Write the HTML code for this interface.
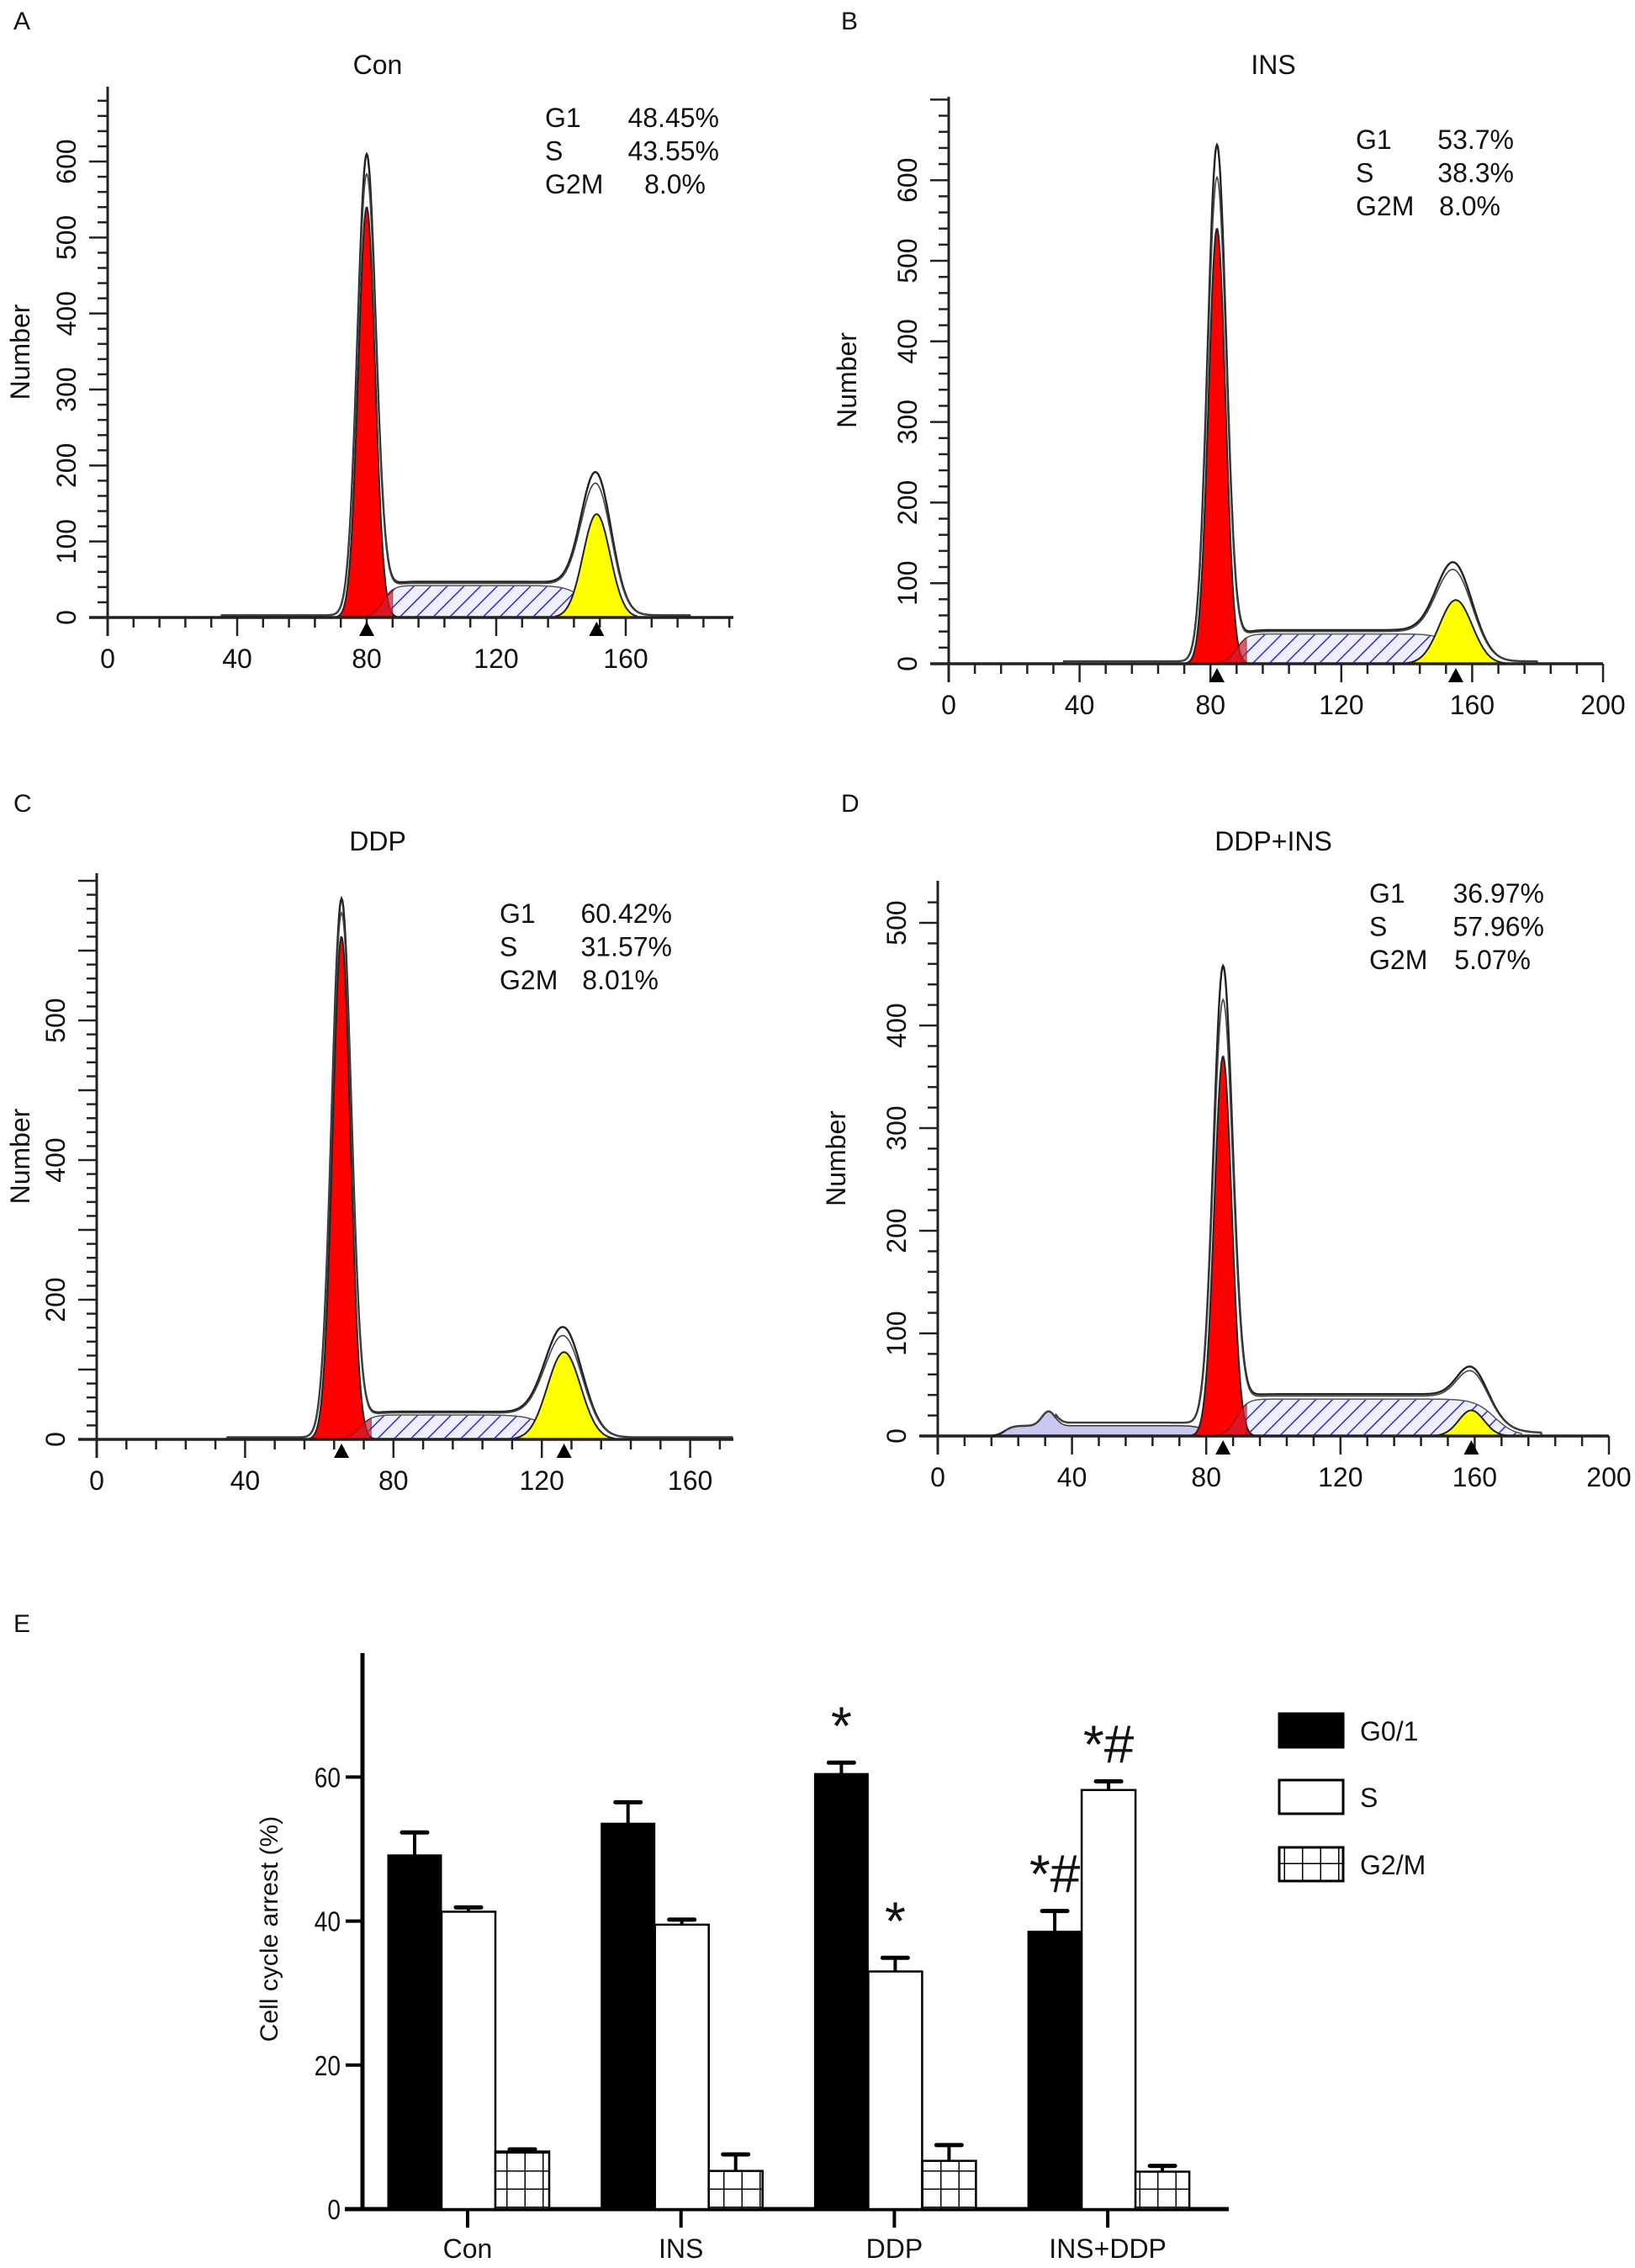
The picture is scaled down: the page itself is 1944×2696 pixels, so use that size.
<!DOCTYPE html>
<html><head><meta charset="utf-8"><style>
html,body{margin:0;padding:0;background:#fff}
svg{display:block}
text{font-family:"Liberation Sans",Arial,sans-serif;fill:#111}
</style></head><body>
<svg id="fig" width="1944" height="2696" viewBox="0 0 1944 2696" xmlns="http://www.w3.org/2000/svg">
<defs>
<pattern id="hatch" patternUnits="userSpaceOnUse" width="14" height="14" patternTransform="rotate(45)">
<rect width="14" height="14" fill="#eeeefc"/><line x1="0" y1="0" x2="0" y2="14" stroke="#2c2cd8" stroke-width="3"/>
</pattern>
<pattern id="grid" patternUnits="userSpaceOnUse" width="21.5" height="21.5" x="0" y="0">
<rect width="21.5" height="21.5" fill="#fff"/><path d="M0 0H21.5M0 0V21.5" stroke="#000" stroke-width="3"/>
</pattern>
</defs>
<g id="hist"></g>
<g id="bars"></g>
</svg>
<script>
const NS='http://www.w3.org/2000/svg';
// ---- flow cytometry histogram data ----
const panelTitles=['Con','INS','DDP','DDP+INS'];
const panelLetters=['A','B','C','D'];
const statG1=['48.45%','53.7%','60.42%','36.97%'];
const statS=['43.55%','38.3%','31.57%','57.96%'];
const statG2=['8.0%','8.0%','8.01%','5.07%'];
const g1Center=[80,82,66,85];
const g1Height=[540,540,720,370];
const g1Outline=[605,640,770,452];
const g1Sd=[2.6,2.6,2.4,2.6];
const g2Center=[151,155,126,159];
const g2Height=[136,79,125,25];
const g2Outline=[176,99,150,30];
const g2Sd=[4.2,5,4.5,3.8];
const sLevel=[42,37,35,36];
const sStart=[85,88,71,89];
const sEnd=[148,156,122,166];
const debrisLevel=[0,0,0,10];
const yTickVals=[[0,100,200,300,400,500,600],[0,100,200,300,400,500,600],[0,200,400,600],[0,100,200,300,400,500]];
const yTickLabels=[['0','100','200','300','400','500','600'],['0','100','200','300','400','500','600'],['0','200','400','500'],['0','100','200','300','400','500']];
const xTickVals=[[0,40,80,120,160],[0,40,80,120,160,200],[0,40,80,120,160],[0,40,80,120,160,200]];
// layout (pixels)
const L=[
 {ox:128,oy:734,top:103,xs:3.85,ys:0.9033,xend:872,ymaxv:700,title:[449,77],stat:[648,140,855],letter:[16,35]},
 {ox:1128,oy:789,top:115,xs:3.89,ys:0.958,xend:1906,ymaxv:700,title:[1514,77],stat:[1612,166,1800],letter:[1000,35]},
 {ox:115,oy:1711,top:1038,xs:4.41,ys:0.83,xend:872,ymaxv:800,title:[449,1000],stat:[594,1086,799],letter:[16,965]},
 {ox:1115,oy:1707,top:1047,xs:3.99,ys:1.22,xend:1913,ymaxv:540,title:[1514,1000],stat:[1628,1062,1836],letter:[1000,965]}
];
function el(tag,attrs,parent){const e=document.createElementNS(NS,tag);for(const k in attrs)e.setAttribute(k,attrs[k]);parent.appendChild(e);return e;}
function gauss(x,c,h,s){return h*Math.exp(-0.5*((x-c)/s)**2);}
function sig(z){return 1/(1+Math.exp(-z));}
const H=document.getElementById('hist');
for(let p=0;p<4;p++){
 const l=L[p];
 const g=el('g',{},H);
 
 
 const X=v=>l.ox+v*l.xs, Y=v=>l.oy-v*l.ys;
 const sF=x=>sLevel[p]*sig((x-sStart[p])/1.6)*sig((sEnd[p]-x)/3);
 const dF=x=>debrisLevel[p]?debrisLevel[p]*sig((x-20)/1.2)*sig((80-x)/1.5)+gauss(x,33,14,2):0;
 const base=x=>(x>35&&x<180?3:0);
 const xmax=(l.xend-l.ox)/l.xs;
 const pathOf=(f,a,b)=>{let d='M'+X(a).toFixed(1)+' '+l.oy;for(let x=a;x<=b;x+=0.25)d+='L'+X(x).toFixed(1)+' '+Y(f(x)).toFixed(1);return d+'L'+X(b).toFixed(1)+' '+l.oy+'Z';};
 const lineOf=(f,a,b)=>{let d='';for(let x=a;x<=b;x+=0.25)d+=(d?'L':'M')+X(x).toFixed(1)+' '+Y(f(x)).toFixed(1);return d;};
 if(debrisLevel[p]){const e=el('path',{d:pathOf(dF,18,82),fill:'#c8c8f0',stroke:'#333','stroke-width':1.5},g);}
 let e=el('path',{d:pathOf(sF,sStart[p]-4,sEnd[p]+8),fill:'url(#hatch)',stroke:'#555','stroke-width':1.5},g);
 
 e=el('path',{d:pathOf(x=>gauss(x,g1Center[p],g1Height[p],g1Sd[p]),g1Center[p]-4*g1Sd[p],g1Center[p]+4*g1Sd[p]),fill:'#ff0000',stroke:'#222','stroke-width':2},g);
 
 el('path',{d:pathOf(x=>Math.min(sF(x),gauss(x,g1Center[p],g1Height[p],g1Sd[p])+sF(x)),g1Center[p]-6,sStart[p]+3),fill:'#d02030',stroke:'#600','stroke-width':1,opacity:0.7},g);
 e=el('path',{d:pathOf(x=>gauss(x,g2Center[p],g2Height[p],g2Sd[p]),g2Center[p]-3*g2Sd[p],g2Center[p]+3*g2Sd[p]),fill:'#ffff00',stroke:'#222','stroke-width':2},g);
 
 const env=k=>x=>base(x)+dF(x)+sF(x)*k+gauss(x,g1Center[p],k>1?g1Outline[p]:g1Height[p]+(g1Outline[p]-g1Height[p])*0.6,g1Sd[p]*1.1)+gauss(x,g2Center[p],k>1?g2Outline[p]:g2Outline[p]*0.92,g2Sd[p]*1.1);
 e=el('path',{d:lineOf(env(1.05),15,Math.min(xmax,185)),fill:'none',stroke:'#222','stroke-width':2.4},g);
 
 el('path',{d:lineOf(env(1.0),20,Math.min(xmax,183)),fill:'none',stroke:'#444','stroke-width':1.6},g);
 e=el('line',{x1:l.ox,y1:l.top,x2:l.ox,y2:l.oy+22,stroke:'#222','stroke-width':3},g);
 
 e=el('line',{x1:l.ox-22,y1:l.oy,x2:l.xend,y2:l.oy,stroke:'#222','stroke-width':3.5},g);
 
 for(let v=20;v<=l.ymaxv;v+=20){const y=Y(v);if(y<l.top+2)break;el('line',{x1:l.ox-(v%100===0?22:12),y1:y,x2:l.ox,y2:y,stroke:'#222','stroke-width':2.5},g);}
 for(let v=8;X(v)<=l.xend;v+=8){el('line',{x1:X(v),y1:l.oy,x2:X(v),y2:l.oy+(v%40===0?22:12),stroke:'#222','stroke-width':2.5},g);}
 yTickVals[p].forEach((v,i)=>{const t=el('text',{x:0,y:0,'font-size':32,'text-anchor':'middle',transform:`translate(${l.ox-38},${Y(v)}) rotate(-90)`},g);t.textContent=yTickLabels[p][i];});
 xTickVals[p].forEach(v=>{const t=el('text',{x:X(v),y:l.oy+60,'font-size':32,'text-anchor':'middle'},g);t.textContent=v;});
 [g1Center[p],g2Center[p]].forEach(v=>{const t=el('path',{d:`M${X(v)} ${l.oy+5}l-9 17h18z`,fill:'#000'},g);});
 let t=el('text',{x:0,y:0,'font-size':32,'text-anchor':'middle',transform:`translate(${p%2?l.ox-110:35},${(l.top+l.oy)/2}) rotate(-90)`},g);t.textContent='Number';
 
 t=el('text',{x:l.title[0],y:l.title[1]+11,'font-size':32,'text-anchor':'middle'},g);t.textContent=panelTitles[p];
 
 t=el('text',{x:l.letter[0],y:l.letter[1],'font-size':30},g);t.textContent=panelLetters[p];
 
 const labs=['G1','S','G2M'],vals=[statG1[p],statS[p],statG2[p]];
 for(let i=0;i<3;i++){const yy=l.stat[1]+i*39.5+11;
  let a=el('text',{x:l.stat[0],y:yy,'font-size':32},g);a.textContent=labs[i];
  a=el('text',{x:l.stat[2]-(i==2?16:0),y:yy,'font-size':32,'text-anchor':'end'},g);a.textContent=vals[i];}
}
// ---- bar chart data ----
const groups=['Con','INS','DDP','INS+DDP'];
const g01Vals=[49.2,53.6,60.5,38.6];
const g01Err=[3.1,2.9,1.5,2.8];
const sVals=[41.3,39.5,33.0,58.2];
const sErr=[0.6,0.7,1.9,1.2];
const g2mVals=[8.0,5.3,6.7,5.2];
const g2mErr=[0.3,2.3,2.2,0.8];
const yTicks=[0,20,40,60];
const marks=[['','',''],['','',''],['*','*',''],['*#','*#','']];
const B=document.getElementById('bars');
const bx0=431,by0=2626,bys=8.56,gx0=556,gsp=253.7,bw=64;
const BY=v=>by0-v*bys, BX=i=>gx0+i*gsp;
let a=el('line',{x1:bx0,y1:1965,x2:bx0,y2:by0+2,stroke:'#000','stroke-width':5},B);

a=el('line',{x1:410,y1:by0,x2:1461,y2:by0,stroke:'#000','stroke-width':5},B);

yTicks.forEach(v=>{el('line',{x1:bx0-20,y1:BY(v),x2:bx0,y2:BY(v),stroke:'#000','stroke-width':4},B);
 const t=el('text',{x:bx0-26,y:BY(v)+12,'font-size':33,'text-anchor':'end',transform:`translate(${bx0-26},0) scale(0.85,1) translate(${-(bx0-26)},0)`},B);t.textContent=v;
 });
a=el('text',{x:0,y:0,'font-size':30,'text-anchor':'middle',transform:'translate(330,2293) rotate(-90)'},B);a.textContent='Cell cycle arrest (%)';

const series=[[g01Vals,g01Err,'#000'],[sVals,sErr,'#fff'],[g2mVals,g2mErr,'url(#grid)']];
const sNames=['g01','s','g2m'];
groups.forEach((gname,i)=>{
 el('line',{x1:BX(i),y1:by0,x2:BX(i),y2:by0+22,stroke:'#000','stroke-width':4},B);
 const t=el('text',{x:BX(i),y:by0+58,'font-size':32,'text-anchor':'middle'},B);t.textContent=gname;
 
 series.forEach((s,k)=>{
  const x=BX(i)-95+k*bw, v=s[0][i], e=s[1][i];
  el('line',{x1:x+bw/2,y1:BY(v),x2:x+bw/2,y2:BY(v+e),stroke:'#000','stroke-width':4},B);
  el('line',{x1:x+bw/2-15,y1:BY(v+e),x2:x+bw/2+15,y2:BY(v+e),stroke:'#000','stroke-width':5,'stroke-linecap':'round'},B);
  const r=el('rect',{x:x,y:BY(v),width:bw,height:v*bys,fill:s[2],stroke:'#000','stroke-width':k?2.5:1},B);
  
  
  if(marks[i][k]){const m=el('text',{x:x+bw/2,y:BY(v+e)-22,'font-size':64,'text-anchor':'middle','font-family':'Liberation Serif, serif'},B);m.textContent=marks[i][k];
   }
 });
});
const legNames=['G0/1','S','G2/M'],legFill=['#000','#fff','url(#grid)'],legY=[2037,2116,2196];
legNames.forEach((n,i)=>{
 const r=el('rect',{x:1521,y:legY[i],width:76,height:40,fill:legFill[i],stroke:'#000','stroke-width':3},B);
 
 const t=el('text',{x:1617,y:legY[i]+32,'font-size':32},B);t.textContent=n;
 
});
a=el('text',{x:16,y:1940,'font-size':30},B);a.textContent='E';

</script>
</body></html>
